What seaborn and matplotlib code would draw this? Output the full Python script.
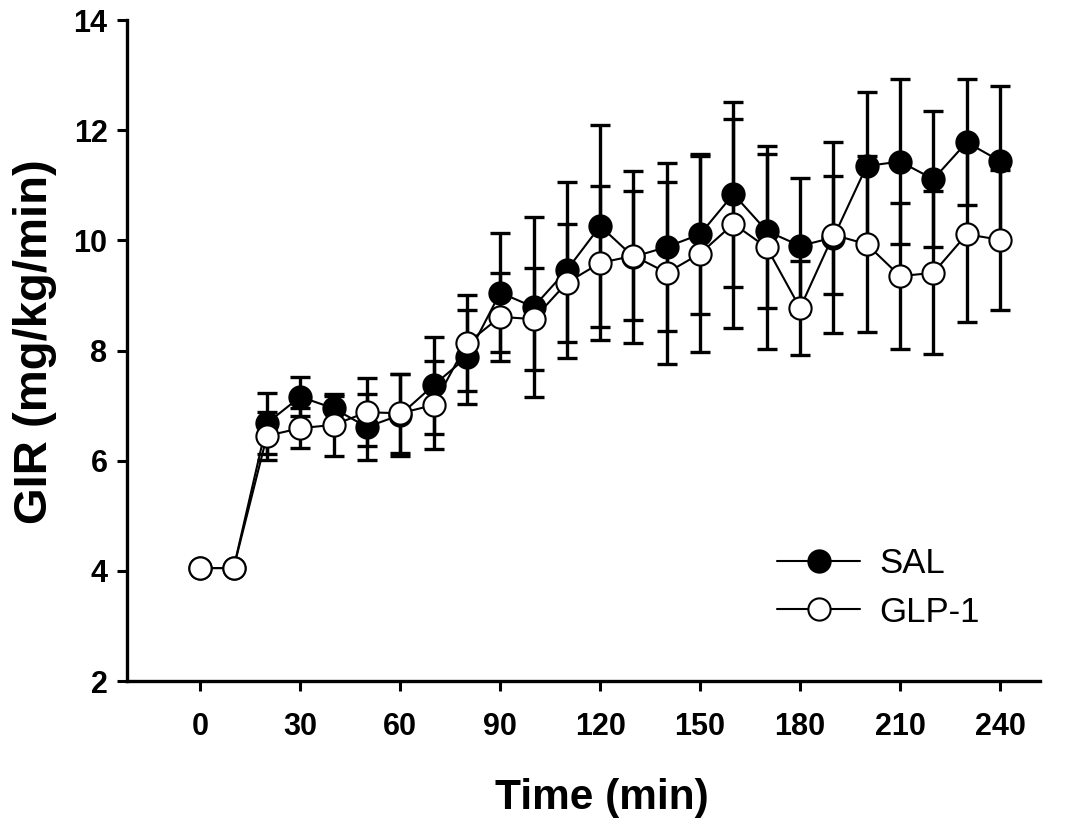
import numpy as np
import pandas as pd
import matplotlib
matplotlib.use("Agg")
import matplotlib.pyplot as plt
import seaborn as sns

# ---- data ----
time = [0, 10, 20, 30, 40, 50, 60, 70, 80, 90, 100, 110, 120,
        130, 140, 150, 160, 170, 180, 190, 200, 210, 220, 230, 240]
sal_mean = [4.05, 4.05, 6.68, 7.16, 6.95, 6.61, 6.83, 7.37, 7.88, 9.05, 8.79, 9.46, 10.26,
            9.70, 9.88, 10.11, 10.84, 10.17, 9.90, 10.05, 11.35, 11.43, 11.11, 11.78, 11.44]
sal_sem = [0, 0, 0.55, 0.35, 0.22, 0.60, 0.75, 0.88, 0.86, 1.08, 1.64, 1.60, 1.84,
           1.56, 1.52, 1.45, 1.68, 1.40, 1.24, 1.73, 1.35, 1.50, 1.24, 1.14, 1.36]
glp_mean = [4.05, 4.05, 6.45, 6.59, 6.65, 6.88, 6.86, 7.01, 8.13, 8.61, 8.57, 9.23, 9.59,
            9.72, 9.41, 9.76, 10.30, 9.87, 8.77, 10.10, 9.93, 9.35, 9.41, 10.11, 10.01]
glp_sem = [0, 0, 0.43, 0.36, 0.56, 0.62, 0.72, 0.80, 0.87, 0.80, 0.92, 1.07, 1.40,
           1.17, 1.65, 1.78, 1.90, 1.84, 0.85, 1.07, 1.60, 1.33, 1.48, 1.60, 1.27]
groups = ["SAL", "GLP-1"]
x_ticks = [0, 30, 60, 90, 120, 150, 180, 210, 240]
y_ticks = [2, 4, 6, 8, 10, 12, 14]

df = pd.DataFrame({
    "time": time * 2,
    "gir": sal_mean + glp_mean,
    "sem": sal_sem + glp_sem,
    "group": [groups[0]] * len(time) + [groups[1]] * len(time),
})

sns.set_theme(style="ticks")
plt.rcParams["font.family"] = ["Liberation Sans", "DejaVu Sans"]
plt.rcParams["text.color"] = "black"
plt.rcParams["axes.labelcolor"] = "black"
plt.rcParams["xtick.color"] = "black"
plt.rcParams["ytick.color"] = "black"

fig = plt.figure(figsize=(10.65, 8.22), dpi=100)
ax = fig.add_axes([127 / 1065, 1 - 681 / 822, (1040 - 127) / 1065, (681 - 20) / 822])

face = {"SAL": "black", "GLP-1": "white"}
for i, g in enumerate(groups):
    sub = df[df["group"] == g]
    m = sub["sem"] > 0
    ax.errorbar(sub["time"][m], sub["gir"][m], yerr=sub["sem"][m], fmt="none",
                ecolor="black", elinewidth=2.4, capsize=7.5, capthick=2.4,
                zorder=2 + i)
    sns.lineplot(data=sub, x="time", y="gir", ax=ax, color="black",
                 linewidth=1.5, marker="o", markersize=16,
                 markerfacecolor=face[g], markeredgecolor="black",
                 markeredgewidth=1.5, label=g, zorder=4 + i)

ax.set_xlim(-22, 252)
ax.set_ylim(2, 14)
ax.set_xticks(x_ticks)
ax.set_yticks(y_ticks)
ax.set_xticklabels([str(v) for v in x_ticks], fontsize=22, fontweight="bold", color="black")
ax.set_yticklabels([str(v) for v in y_ticks], fontsize=22, fontweight="bold", color="black")
ax.tick_params(axis="x", direction="out", length=7, width=2.2, pad=15)
ax.tick_params(axis="y", direction="out", length=7, width=2.2, pad=7)

for s in ["top", "right"]:
    ax.spines[s].set_visible(False)
for s in ["left", "bottom"]:
    ax.spines[s].set_linewidth(2.4)
    ax.spines[s].set_color("black")

ax.set_xlabel("Time (min)", fontsize=30.5, fontweight="bold", color="black")
ax.set_ylabel("GIR (mg/kg/min)", fontsize=34, fontweight="bold", color="black")
ax.xaxis.set_label_coords((602 - 127) / 913, -(778 - 681) / 661)
ax.yaxis.set_label_coords(-(127 - 57) / 913, (681 - 342) / 661)

handles, labels = ax.get_legend_handles_labels()
leg = ax.legend(handles, labels, loc="upper left",
                bbox_to_anchor=(777 / 1065, 1 - 547 / 822),
                bbox_transform=fig.transFigure,
                frameon=False, fontsize=25, handlelength=2.4,
                handletextpad=0.55, labelspacing=0.45, borderpad=0,
                borderaxespad=0, numpoints=1)
for t in leg.get_texts():
    t.set_fontweight("normal")
    t.set_color("black")

fig.savefig("out.png", dpi=100)
